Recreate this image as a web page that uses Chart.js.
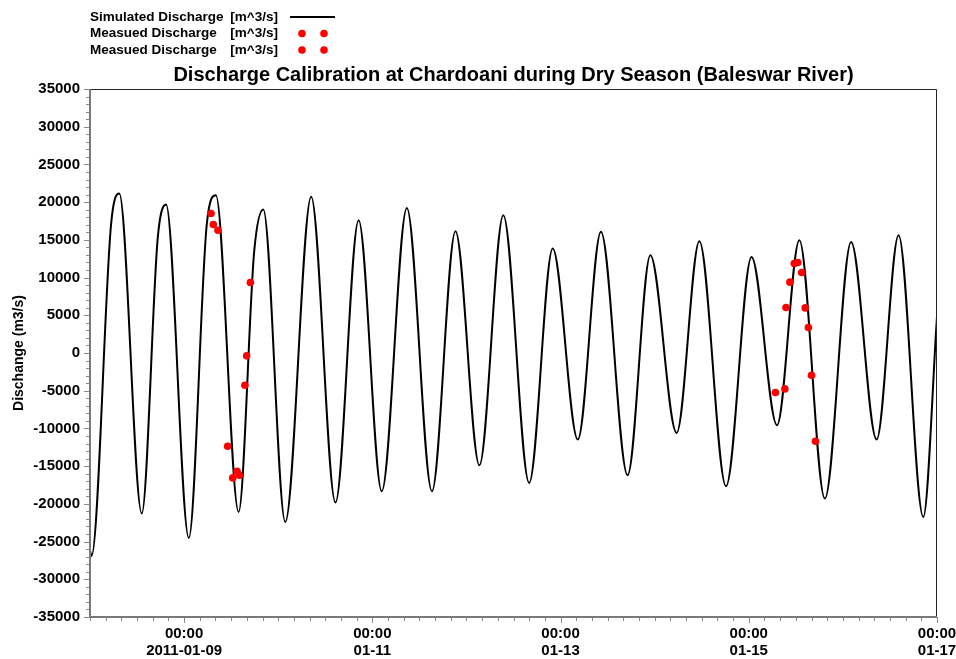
<!DOCTYPE html>
<html>
<head>
<meta charset="utf-8">
<title>Discharge Calibration at Chardoani</title>
<script src="https://cdn.jsdelivr.net/npm/chart.js@4/dist/chart.umd.min.js"></script>
<style>
  html, body { margin: 0; padding: 0; background: #ffffff; }
  #wrap { width: 956px; height: 659px; }
</style>
</head>
<body>
<div id="wrap"><canvas id="chart" width="956" height="659"></canvas></div>
<script>
// Time is counted in hours from 2011-01-08 00:00.
const xTickHours = [24, 72, 120, 168, 216];
const xTickDates = ['2011-01-09', '01-11', '01-13', '01-15', '01-17'];
const xTickTime = '00:00';

const yLabelStep = 5000;

// Simulated discharge: turning points and shoulders of the tidal curve (m^3/s).
const simHours = [0, 0.4, 5.4, 7.47, 13.2, 17.3, 19.4, 25.2, 29.8, 32.1, 37.9, 41.9, 44.2,
  49.8, 56.4, 62.6, 68.5, 74.4, 80.8, 87.2, 93.2, 99.3, 105.4, 112.0, 118.0, 124.4, 130.3,
  137.1, 142.9, 149.6, 155.4, 162.2, 168.7, 175.2, 180.9, 187.4, 194.1, 200.6, 206.2, 212.5, 216];
const simValues = [-26200, -26900, 17200, 21150, -21280, 15400, 19690, -24520, 17170, 20920,
  -21070, 13630, 19030, -22400, 20700, -19830, 17610, -18330, 19240, -18330, 16150, -14880,
  18270, -17220, 13860, -11470, 16060, -16200, 12970, -10590, 14820, -17660, 12740, -9570,
  14960, -19300, 14730, -11470, 15620, -21730, 4790];

// Measured discharge, first campaign (2011-01-09).
const meas1Hours = [30.86, 31.45, 32.64, 35.1, 36.4, 37.5, 38.1, 39.5, 39.95, 40.9];
const meas1Values = [18500, 17040, 16280, -12360, -16560, -15670, -16200, -4270, -380, 9350];

// Measured discharge, second campaign (2011-01-15).
const meas2Hours = [174.8, 177.2, 177.5, 178.5, 179.6, 180.5, 181.5, 182.4, 183.2, 184.0, 185.0];
const meas2Values = [-5240, -4760, 6030, 9390, 11870, 12000, 10670, 5980, 3380, -2940, -11700];

const titleText = 'Discharge Calibration at Chardoani during Dry Season (Baleswar River)';
const yTitle = 'Dischange (m3/s)';
const seriesLabels = ['Simulated Discharge [m^3/s]', 'Measued Discharge  [m^3/s]', 'Measued Discharge  [m^3/s]'];

const FONT = "'Liberation Sans', Arial, Helvetica, sans-serif";
const pts = (xs, ys) => xs.map((x, i) => ({ x: x, y: ys[i] }));

// Frame, tick marks, title and legend drawn on the canvas.
const decor = {
  id: 'decor',
  afterDraw(chart) {
    const ctx = chart.ctx;
    const a = chart.chartArea;
    const xs = chart.scales.x, ys = chart.scales.y;
    ctx.save();

    // tick marks
    ctx.strokeStyle = '#8a8a8a';
    ctx.lineWidth = 1;
    ctx.beginPath();
    xs.ticks.forEach(t => {
      const px = Math.round(xs.getPixelForValue(t.value)) + 0.5;
      const len = xTickHours.includes(t.value) ? 6 : 4;
      ctx.moveTo(px, a.bottom);
      ctx.lineTo(px, a.bottom + len);
    });
    ys.ticks.forEach(t => {
      const py = Math.round(ys.getPixelForValue(t.value)) + 0.5;
      const len = t.value % yLabelStep === 0 ? 6 : 4;
      ctx.moveTo(a.left, py);
      ctx.lineTo(a.left - len, py);
    });
    ctx.stroke();

    // frame
    ctx.strokeStyle = '#222222';
    ctx.lineWidth = 1;
    ctx.beginPath();
    ctx.moveTo(a.left, a.top + 0.5);
    ctx.lineTo(a.right - 0.5, a.top + 0.5);
    ctx.lineTo(a.right - 0.5, a.bottom);
    ctx.stroke();
    ctx.strokeStyle = '#7a7a7a';
    ctx.lineWidth = 2;
    ctx.beginPath();
    ctx.moveTo(a.left, a.top);
    ctx.lineTo(a.left, a.bottom);
    ctx.lineTo(a.right, a.bottom);
    ctx.stroke();

    // title
    ctx.fillStyle = '#000000';
    ctx.font = 'bold 20px ' + FONT;
    ctx.textAlign = 'center';
    ctx.textBaseline = 'middle';
    ctx.fillText(titleText, (a.left + a.right) / 2, 75);

    // legend
    ctx.font = 'bold 13.5px ' + FONT;
    ctx.textBaseline = 'middle';
    chart.data.datasets.forEach((ds, i) => {
      const y = 17 + i * 16.5;
      const cut = ds.label.indexOf('[');
      ctx.fillStyle = '#000000';
      ctx.textAlign = 'left';
      ctx.fillText(ds.label.slice(0, cut).trimEnd(), 90, y);
      ctx.textAlign = 'right';
      ctx.fillText(ds.label.slice(cut), 278, y);
      if (ds.showLine === false) {
        ctx.fillStyle = ds.backgroundColor;
        [302, 324].forEach(cx => {
          ctx.beginPath();
          ctx.arc(cx, y, 3.8, 0, Math.PI * 2);
          ctx.fill();
        });
      } else {
        ctx.strokeStyle = ds.borderColor;
        ctx.lineWidth = 2;
        ctx.beginPath();
        ctx.moveTo(290, y);
        ctx.lineTo(335, y);
        ctx.stroke();
      }
    });
    ctx.restore();
  }
};

new Chart(document.getElementById('chart'), {
  type: 'line',
  data: {
    datasets: [
      {
        label: seriesLabels[0],
        data: pts(simHours, simValues),
        borderColor: '#000000',
        borderWidth: 2,
        pointRadius: 0,
        cubicInterpolationMode: 'monotone',
        fill: false,
        order: 2
      },
      {
        label: seriesLabels[1],
        data: pts(meas1Hours, meas1Values),
        showLine: false,
        backgroundColor: '#ff0000',
        borderColor: '#ff0000',
        pointRadius: 3.8,
        pointBorderWidth: 0,
        order: 1
      },
      {
        label: seriesLabels[2],
        data: pts(meas2Hours, meas2Values),
        showLine: false,
        backgroundColor: '#ff0000',
        borderColor: '#ff0000',
        pointRadius: 3.8,
        pointBorderWidth: 0,
        order: 1
      }
    ]
  },
  options: {
    responsive: false,
    animation: false,
    devicePixelRatio: 1,
    layout: { padding: { top: 89, right: 19, bottom: 0, left: 0 } },
    plugins: {
      legend: { display: false },
      title: { display: false },
      tooltip: { enabled: false }
    },
    scales: {
      x: {
        type: 'linear',
        min: 0,
        max: 216,
        afterFit(scale) {
          scale.height = 42;
          scale.paddingLeft = 0;
          scale.paddingRight = 0;
        },
        border: { display: false },
        grid: { display: false, drawTicks: false },
        ticks: {
          stepSize: 4,
          autoSkip: false,
          maxRotation: 0,
          padding: 9,
          color: '#000000',
          font: { family: FONT, size: 15, weight: 'bold', lineHeight: 1.1 },
          callback(value) {
            const i = xTickHours.indexOf(value);
            return i >= 0 ? [xTickTime, xTickDates[i]] : '';
          }
        }
      },
      y: {
        min: -35000,
        max: 35000,
        afterFit(scale) {
          scale.width = 90;
          scale.paddingTop = 0;
          scale.paddingBottom = 0;
        },
        border: { display: false },
        grid: { display: false, drawTicks: false },
        title: {
          display: true,
          text: yTitle,
          color: '#000000',
          padding: { top: 11, bottom: 0 },
          font: { family: FONT, size: 14, weight: 'bold' }
        },
        ticks: {
          stepSize: 1000,
          autoSkip: false,
          padding: 10,
          color: '#000000',
          font: { family: FONT, size: 15, weight: 'bold' },
          callback(value) {
            return value % yLabelStep === 0 ? String(value) : '';
          }
        }
      }
    }
  },
  plugins: [decor]
});
</script>
</body>
</html>
